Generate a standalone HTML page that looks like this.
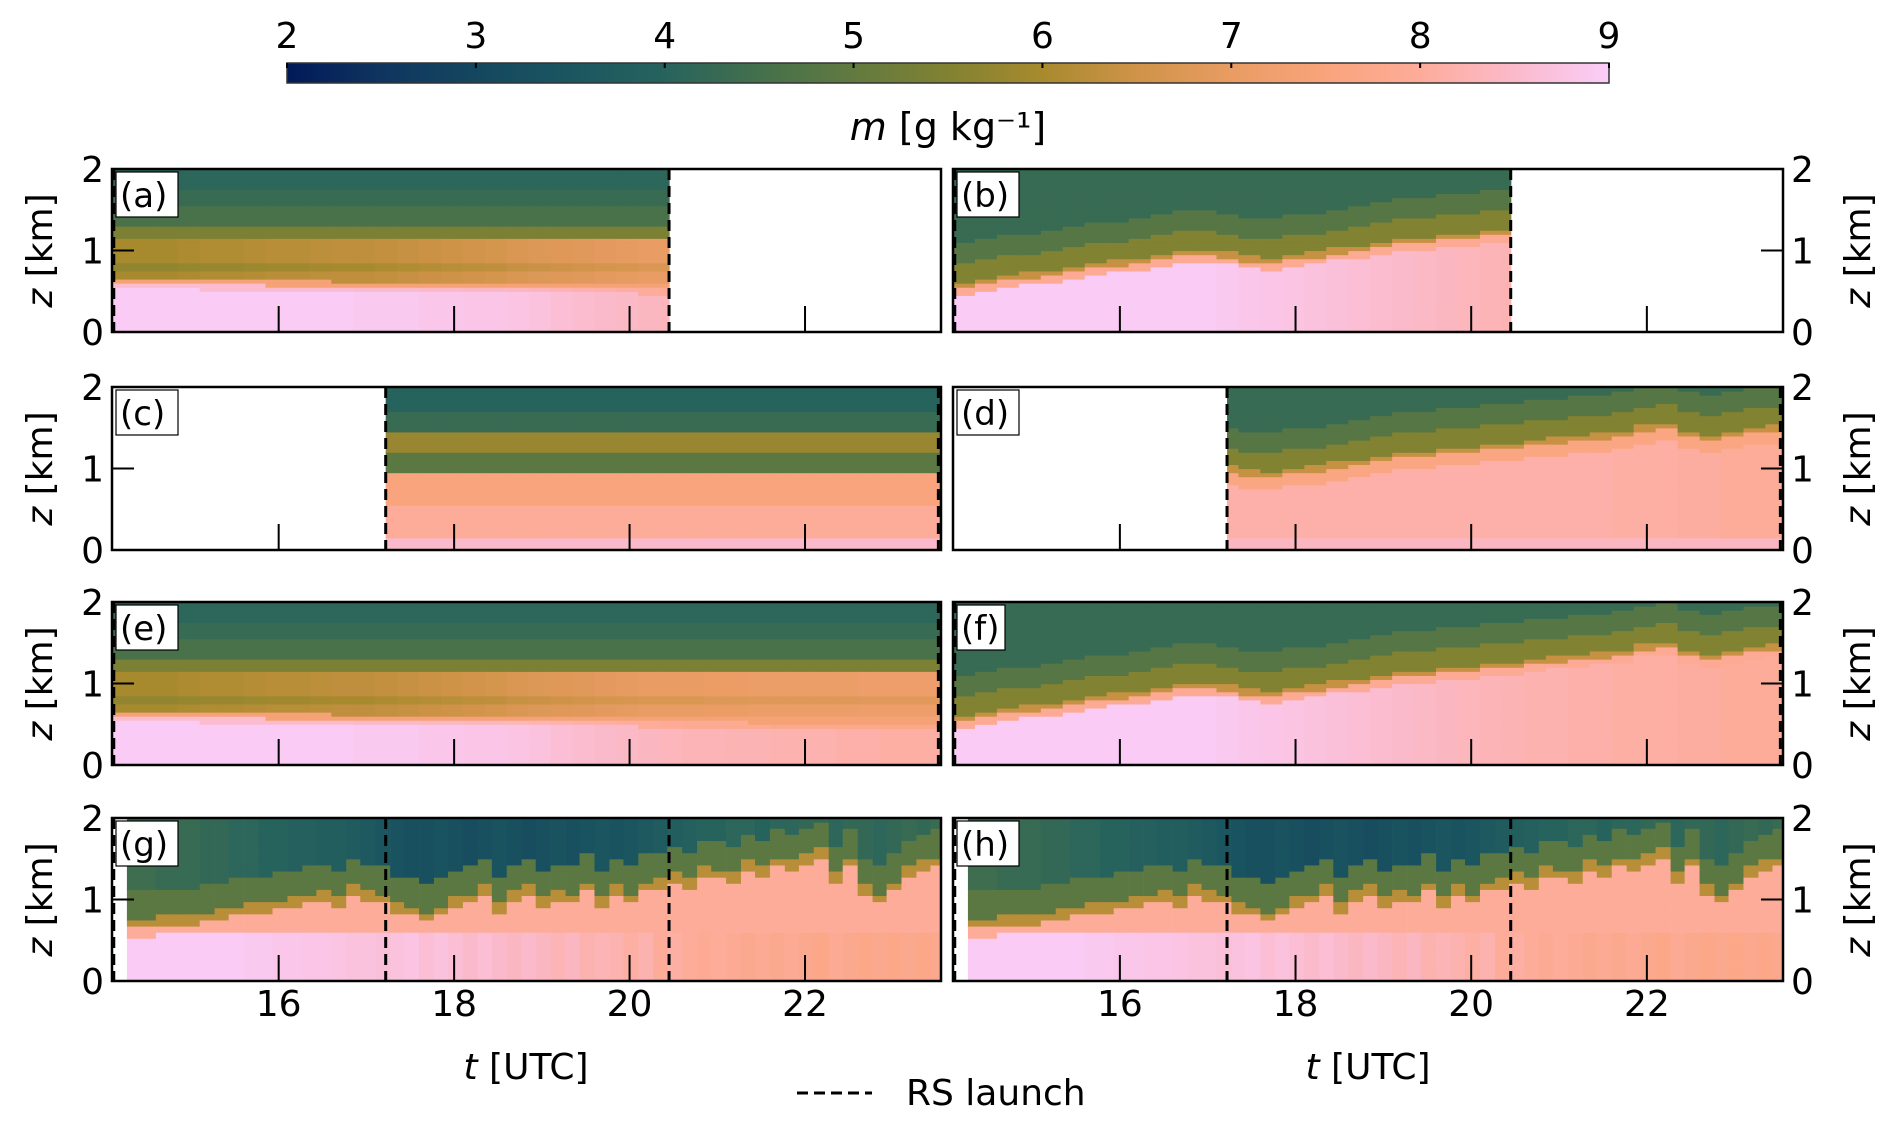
<!DOCTYPE html>
<html><head><meta charset="utf-8">
<style>
html,body{margin:0;padding:0;background:#fff;}
svg{display:block;font-family:"DejaVu Sans","Liberation Sans",sans-serif;}
</style></head>
<body>
<svg id="fig" width="1892" height="1124" viewBox="0 0 1892 1124" xmlns="http://www.w3.org/2000/svg">
<defs>
<linearGradient id="cbgrad" x1="0" x2="1" y1="0" y2="0">
<stop offset="0" stop-color="#011959"/><stop offset="0.0714" stop-color="#0f355f"/>
<stop offset="0.1429" stop-color="#14475f"/><stop offset="0.2143" stop-color="#1b5660"/>
<stop offset="0.2857" stop-color="#27635d"/><stop offset="0.3571" stop-color="#44704c"/>
<stop offset="0.4286" stop-color="#627a40"/><stop offset="0.5" stop-color="#818232"/>
<stop offset="0.5714" stop-color="#a88a2e"/><stop offset="0.6429" stop-color="#cf9348"/>
<stop offset="0.7143" stop-color="#e99c63"/><stop offset="0.7857" stop-color="#f9a47c"/>
<stop offset="0.8571" stop-color="#fdac9a"/><stop offset="0.9286" stop-color="#fbbacb"/>
<stop offset="1" stop-color="#facdf9"/>
</linearGradient>
</defs>
<g id="colorbar">
<rect x="287" y="63" width="1322" height="20" fill="url(#cbgrad)" stroke="#333" stroke-width="1.5"/>
</g>
<text x="948" y="140" font-size="38" text-anchor="middle"><tspan font-style="italic">m</tspan> [g kg⁻¹]</text>
<g id="panels"></g>
<g id="legend">
<line x1="797" x2="872" y1="1093" y2="1093" stroke="#000" stroke-width="3" stroke-dasharray="11,6"/>
<text x="906" y="1105" font-size="36">RS launch</text>
</g>
<text x="526" y="1079" font-size="36" text-anchor="middle"><tspan font-style="italic">t</tspan> [UTC]</text>
<text x="1368" y="1079" font-size="36" text-anchor="middle"><tspan font-style="italic">t</tspan> [UTC]</text>
</svg>
<script>
// ---------- data ----------
const cbTicks = [2,3,4,5,6,7,8,9];
const xTicks = [16,18,20,22];
const yTicks = [0,1,2];
const rsLaunch = [17.22, 20.45];
const tSmooth = [14.1,14.35,14.6,14.85,15.1,15.35,15.6,15.85,16.1,16.35,16.6,16.85,17.1,17.35,17.6,17.85,18.1,18.35,18.6,18.85,19.1,19.35,19.6,19.85,20.1,20.35,20.6,20.85,21.1,21.35,21.6,21.85,22.1,22.35,22.6,22.85,23.1,23.35];
const hLeft = [0.6,0.6,0.59,0.59,0.58,0.58,0.58,0.57,0.57,0.57,0.56,0.56,0.56,0.56,0.55,0.55,0.55,0.55,0.55,0.54,0.54,0.54,0.54,0.54,0.53,0.53,0.53,0.53,0.53,0.52,0.52,0.52,0.52,0.52,0.52,0.52,0.52,0.52];
const lowLeft = [8.95,8.95,8.95,8.95,8.95,8.95,8.95,8.95,8.95,8.95,8.95,8.9,8.9,8.9,8.85,8.85,8.8,8.8,8.75,8.7,8.6,8.55,8.5,8.45,8.4,8.35,8.3,8.3,8.25,8.25,8.2,8.2,8.2,8.15,8.15,8.1,8.1,8.1];
const midLeft = [6.0,6.0,6.0,6.05,6.1,6.1,6.15,6.2,6.2,6.25,6.3,6.3,6.35,6.4,6.45,6.5,6.55,6.6,6.7,6.75,6.8,6.85,6.9,6.95,7.0,7.0,7.0,7.05,7.05,7.1,7.1,7.1,7.1,7.1,7.15,7.15,7.15,7.15];
const hRight = [0.55,0.6,0.63,0.67,0.7,0.74,0.78,0.82,0.85,0.9,0.93,0.95,0.92,0.87,0.85,0.88,0.92,0.97,1.0,1.05,1.08,1.1,1.13,1.15,1.18,1.2,1.23,1.27,1.3,1.32,1.35,1.42,1.45,1.35,1.3,1.35,1.4,1.42];
const lowRight = [8.95,8.95,8.95,8.95,8.95,8.95,8.95,8.95,8.95,8.95,8.95,8.95,8.9,8.85,8.8,8.75,8.7,8.65,8.6,8.55,8.5,8.45,8.4,8.35,8.3,8.25,8.2,8.2,8.15,8.15,8.1,8.1,8.1,8.05,8.05,8.0,8.0,8.0];
const tNoisy = [14.27,14.43,14.6,14.77,14.93,15.1,15.27,15.43,15.6,15.77,15.93,16.1,16.27,16.43,16.6,16.77,16.93,17.1,17.27,17.43,17.6,17.77,17.93,18.1,18.27,18.43,18.6,18.77,18.93,19.1,19.27,19.43,19.6,19.77,19.93,20.1,20.27,20.43,20.6,20.77,20.93,21.1,21.27,21.43,21.6,21.77,21.93,22.1,22.27,22.43,22.6,22.77,22.93,23.1,23.27,23.43];
const hNoisy = [0.65,0.65,0.67,0.68,0.7,0.72,0.75,0.8,0.82,0.85,0.88,0.92,0.95,1.0,0.9,1.05,1.0,0.95,0.85,0.8,0.72,0.8,0.9,0.95,1.05,0.85,1.0,1.05,0.9,1.0,0.95,1.1,0.9,1.05,0.95,1.1,1.15,1.2,1.15,1.3,1.25,1.2,1.35,1.3,1.4,1.35,1.45,1.5,1.2,1.4,1.05,0.95,1.1,1.3,1.35,1.4];
const lowNoisy = [8.95,8.95,8.95,8.95,8.95,8.95,8.95,8.95,8.9,8.9,8.85,8.85,8.8,8.8,8.75,8.7,8.7,8.65,8.7,8.75,8.6,8.7,8.6,8.5,8.6,8.5,8.4,8.5,8.4,8.3,8.4,8.2,8.3,8.2,8.1,8.2,8.0,8.1,8.0,7.9,8.0,7.9,7.8,7.9,7.8,7.9,7.8,7.7,7.9,7.8,7.7,7.8,7.7,7.8,7.7,7.8];
const topNoisy = [4.4,4.4,4.3,4.3,4.3,4.2,4.2,4.1,4.1,4.0,4.0,3.9,3.9,3.8,3.8,3.7,3.6,3.5,3.4,3.3,3.3,3.4,3.3,3.2,3.3,3.4,3.3,3.2,3.3,3.4,3.3,3.4,3.5,3.4,3.5,3.6,3.7,3.8,3.9,4.0,4.0,4.1,4.1,4.0,4.1,4.1,4.2,4.2,4.1,4.2,4.2,4.1,4.2,4.3,4.2,4.3];
// ---------- layout ----------
const T0 = 14.1, T1 = 23.55;
const cols = [{x0:112,x1:941},{x0:953,x1:1783}];
const rows = [{y0:169,y1:332},{y0:387,y1:550},{y0:602,y1:765},{y0:818,y1:981}];
const panels = [
 {lab:'a',r:0,c:0,kind:'L',ts:14.1,te:20.45,dash:[14.12,20.45]},
 {lab:'b',r:0,c:1,kind:'R',ts:14.1,te:20.45,dash:[14.12,20.45]},
 {lab:'c',r:1,c:0,kind:'C',ts:17.22,te:23.55,dash:[17.22,23.52]},
 {lab:'d',r:1,c:1,kind:'D',ts:17.22,te:23.55,dash:[17.22,23.52]},
 {lab:'e',r:2,c:0,kind:'L',ts:14.1,te:23.55,dash:[14.12,23.52]},
 {lab:'f',r:2,c:1,kind:'R',ts:14.1,te:23.55,dash:[14.12,23.52]},
 {lab:'g',r:3,c:0,kind:'N',ts:14.27,te:23.55,dash:[14.12,17.22,20.45]},
 {lab:'h',r:3,c:1,kind:'N',ts:14.27,te:23.55,dash:[14.12,17.22,20.45]}
];
const NS='http://www.w3.org/2000/svg';
const stops=[[2,[1,25,89]],[2.5,[15,53,95]],[3,[20,71,95]],[3.5,[27,86,96]],[4,[39,99,93]],[4.5,[68,112,76]],[5,[98,122,64]],[5.5,[129,130,50]],[6,[168,138,46]],[6.5,[207,147,72]],[7,[233,156,99]],[7.5,[249,164,124]],[8,[253,172,154]],[8.5,[251,186,203]],[9,[250,205,249]]];
function cmap(v){v=Math.max(2,Math.min(9,v));for(let i=0;i<stops.length-1;i++){const a=stops[i],b=stops[i+1];if(v<=b[0]){const f=(v-a[0])/(b[0]-a[0]);const c=a[1].map((x,k)=>Math.round(x+(b[1][k]-x)*f));return 'rgb('+c.join(',')+')';}}return 'rgb(250,205,249)';}
function el(tag,attrs,parent){const e=document.createElementNS(NS,tag);for(const k in attrs)e.setAttribute(k,attrs[k]);if(parent)parent.appendChild(e);return e;}
function value(kind,i,z){
 if(kind==='L'){const h=hLeft[i];
  if(z<h) return lowLeft[i]-(z>h-0.06?0.4:0);
  if(z<h+0.06) return 7.4;
  if(z<1.15) return midLeft[i]-(z>0.75&&z<0.85?0.3:0);
  if(z<1.3) return 5.4; if(z<1.55) return 4.6; if(z<1.75) return 4.3; return 4.1;}
 if(kind==='C'){
  if(z<0.15) return 8.5; if(z<0.55) return 8.0; if(z<0.95) return 7.5;
  if(z<1.2) return 4.9; if(z<1.45) return 5.8; if(z<1.7) return 4.3; return 4.0;}
 if(kind==='R'||kind==='D'){const h=hRight[i]+(kind==='D'?0.05:0);
  const low = kind==='D'? Math.min(lowRight[i],8.15):lowRight[i];
  if(z<h-(kind==='D'?0.15:0.08)) return z<0.15&&kind==='D'?8.4:low; if(z<h) return kind==='D'?7.6:7.9;
  if(z<h+0.06) return 6.4; if(z<h+0.3) return 5.5; if(z<h+0.55) return 4.8; return 4.3;}
 const h=hNoisy[i];
 if(z<Math.min(0.62,h-0.1)) return lowNoisy[i];
 if(z<h) return 8.0; if(z<h+0.12) return 6.2; if(z<h+0.45) return 4.9; return topNoisy[i];
}
const root=document.getElementById('panels');
const cbx=t=>287+(t-2)/7*1322;
cbTicks.forEach(t=>{
 const tk=el('line',{x1:cbx(t),x2:cbx(t),y1:63,y2:68,stroke:'#000','stroke-width':2},document.getElementById('colorbar'));
 
 
 const tx=el('text',{x:cbx(t),y:48,'font-size':36,'text-anchor':'middle'},document.getElementById('colorbar'));
 tx.textContent=t;
 
 
});
panels.forEach(p=>{
 const C=cols[p.c],R=rows[p.r];
 const X=t=>C.x0+(t-T0)/(T1-T0)*(C.x1-C.x0);
 const Y=z=>R.y1-z/2*(R.y1-R.y0);
 const g=el('g',{},root);
 
 
 const cid='clip'+p.lab;
 const cp=el('clipPath',{id:cid},g);
 el('rect',{x:C.x0,y:R.y0,width:C.x1-C.x0,height:R.y1-R.y0},cp);
 const hm=el('g',{'clip-path':'url(#'+cid+')'},g);
 
 
 const noisy=p.kind==='N';
 const ts=noisy?tNoisy:tSmooth, dt=noisy?1/6:0.25, dz=noisy?0.075:0.05;
 const nz=Math.round(2/dz);
 ts.forEach((t,i)=>{
  const a=Math.max(t,p.ts), b=Math.min(t+dt,p.te);
  if(b<=a) return;
  for(let k=0;k<nz;k++){
   const z=k*dz+dz/2;
   const c=el('rect',{x:X(a).toFixed(2),y:Y((k+1)*dz).toFixed(2),width:(X(b)-X(a)+0.6).toFixed(2),height:(Y(0)-Y(dz)+0.6).toFixed(2),fill:cmap(value(p.kind,i,z))},hm);
   
   
  }
 });
 p.dash.forEach(t=>{
  const d=el('line',{x1:X(t),x2:X(t),y1:R.y0,y2:R.y1,stroke:'#000','stroke-width':3,'stroke-dasharray':'11,6'},g);
  
  
 });
 xTicks.forEach(t=>{
  const tk=el('line',{x1:X(t),x2:X(t),y1:R.y1,y2:R.y1-26,stroke:'#000','stroke-width':2},g);
  
  
  if(p.r===3){
   const tl=el('text',{x:X(t),y:1016,'font-size':36,'text-anchor':'middle'},g);
   tl.textContent=t;
   
   
  }
 });
 yTicks.forEach(z=>{
  const xe=p.c===0?C.x0:C.x1, dir=p.c===0?1:-1;
  const tk=el('line',{x1:xe,x2:xe+dir*22,y1:Y(z),y2:Y(z),stroke:'#000','stroke-width':2},g);
  
  
  const tl=el('text',{x:p.c===0?C.x0-8:C.x1+8,y:Y(z)+13,'font-size':36,'text-anchor':p.c===0?'end':'start'},g);
  tl.textContent=z;
  
  
 });
 const fr=el('rect',{x:C.x0,y:R.y0,width:C.x1-C.x0,height:R.y1-R.y0,fill:'none',stroke:'#000','stroke-width':2.5},g);
 
 
 const lb=el('rect',{x:C.x0+4,y:R.y0+3,width:p.lab==='f'?48:62,height:45,fill:'#fff',stroke:'#000','stroke-width':1.2},g);
 
 
 const lt=el('text',{x:C.x0+8,y:R.y0+38,'font-size':34},g);
 lt.textContent='('+p.lab+')';
 
 
 const ax=p.c===0?40:1858, ay=(R.y0+R.y1)/2;
 const yt=el('text',{x:ax,y:ay,'font-size':36,'text-anchor':'middle',transform:'rotate(-90 '+ax+' '+ay+')',dy:12},g);
 yt.innerHTML='<tspan font-style="italic">z</tspan> [km]';
 
 
});
</script>
</body></html>
